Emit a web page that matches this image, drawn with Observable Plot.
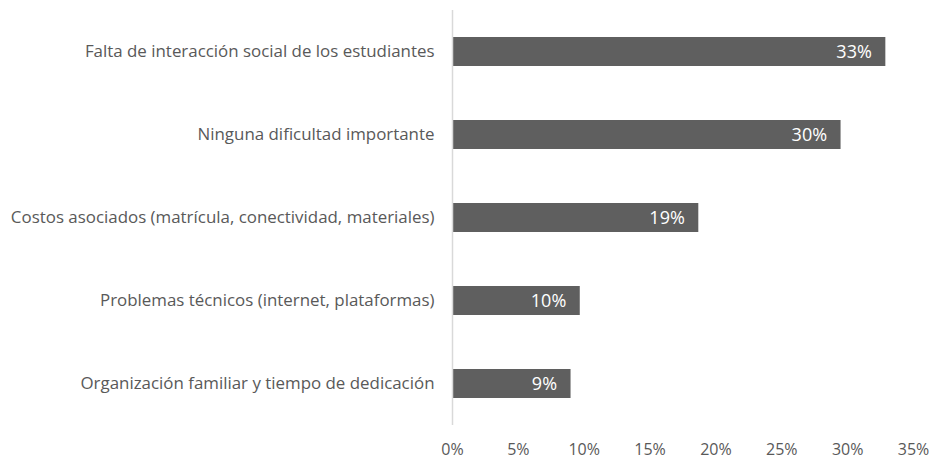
<!DOCTYPE html>
<html>
<head>
<meta charset="utf-8">
<script src="https://cdn.jsdelivr.net/npm/d3@7"></script>
<script src="https://cdn.jsdelivr.net/npm/@observablehq/plot@0.6"></script>
<style>
  html, body { margin: 0; padding: 0; background: #fff; }
  #chart { width: 932px; height: 460px; }
</style>
</head>
<body>
<div id="chart"></div>
<script>
const categories = [
  "Falta de interacción social de los estudiantes",
  "Ninguna dificultad importante",
  "Costos asociados (matrícula, conectividad, materiales)",
  "Problemas técnicos (internet, plataformas)",
  "Organización familiar y tiempo de dedicación"
];
const values = [0.329, 0.295, 0.187, 0.097, 0.090];
const valueLabels = ["33%", "30%", "19%", "10%", "9%"];
const xTicks = [0, 0.05, 0.10, 0.15, 0.20, 0.25, 0.30, 0.35];

const data = categories.map((c, i) => ({category: c, value: values[i], label: valueLabels[i]}));
const font = "'Open Sans', sans-serif";

const chart = Plot.plot({
  width: 932,
  height: 460,
  marginLeft: 452,
  marginRight: 19,
  marginTop: 10,
  marginBottom: 35,
  style: {fontFamily: font, fontSize: "16px", color: "#595959", background: "#fff"},
  x: {domain: [0, 0.35], ticks: xTicks, tickFormat: d => Math.round(d * 100) + "%"},
  y: {domain: categories, paddingInner: 0.65, paddingOuter: 0.325, label: null},
  marks: [
    Plot.barX(data, {x: "value", y: "category", fill: "#5f5f5f"}),
    Plot.ruleX([0], {stroke: "#d9d9d9", strokeWidth: 1.5}),
    Plot.text(data, {x: "value", y: "category", text: "label", textAnchor: "end", dx: -14, fill: "white", fontSize: 18}),
    Plot.axisX({ticks: xTicks, tickFormat: d => Math.round(d * 100) + "%", tickSize: 0, tickPadding: 18, label: null, fontSize: 16, fill: "#595959"}),
    Plot.axisY({tickSize: 0, tickPadding: 18, label: null, fontSize: 16.9, fill: "#595959"})
  ]
});
document.getElementById("chart").appendChild(chart);
</script>
</body>
</html>
